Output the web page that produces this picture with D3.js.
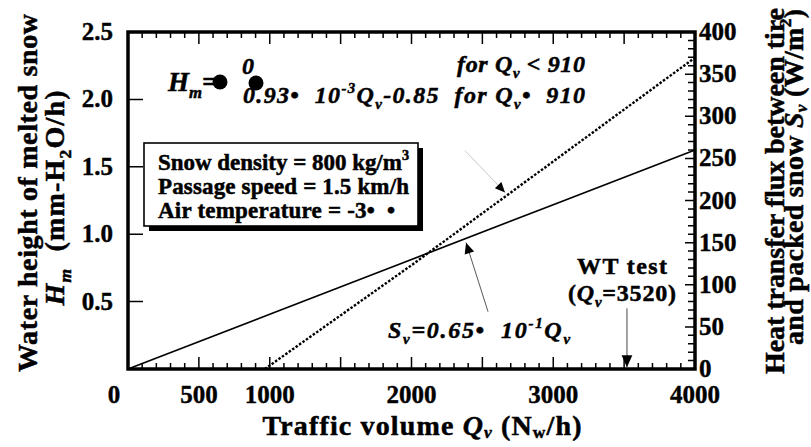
<!DOCTYPE html>
<html><head><meta charset="utf-8">
<script src="https://cdn.jsdelivr.net/npm/d3@7"></script>
<style>body{margin:0;background:#fff}text{white-space:pre}</style>
</head><body>
<svg id="c" width="811" height="447"></svg>
<script>
// ---- data ----
const xLabels = [0, 500, 1000, 2000, 3000, 4000];
const xMajor = [500, 1000, 1500, 2000, 2500, 3000, 3500];
const yLeftLabels = [0.5, 1.0, 1.5, 2.0, 2.5];
const yRightLabels = [0, 50, 100, 150, 200, 250, 300, 350, 400];
// S_v (solid line, right axis)
const svQ = [0, 1000, 2000, 3000, 4000];
const svVals = [0, 65, 130, 195, 260];
// H_m (dotted line, left axis)
const hmQ = [965, 2000, 3000, 4000];
const hmVals = [0, 0.77, 1.54, 2.31];
const wtQ = 3520;

const svg = d3.select('#c');
const FONT = '"Liberation Serif","Times New Roman",serif';
const x = d3.scaleLinear().domain([0, 4000]).range([128, 695]);
const yL = d3.scaleLinear().domain([0, 2.5]).range([369, 32]);
const yR = d3.scaleLinear().domain([0, 400]).range([369, 32]);

function rich(sel, parts, base, subShift = 0.25) {
  let shift = 0;
  parts.forEach(p => {
    const ts = sel.append('tspan').text(p.t);
    let target = 0, fs = base;
    if (p.sub) { target = subShift * base; fs = 0.62 * base; }
    if (p.sup) { target = -0.42 * base; fs = 0.62 * base; }
    ts.attr('dy', target - shift).attr('font-size', fs);
    if (p.i) ts.attr('font-style', 'italic');
    shift = target;
  });
  return sel;
}
function txt(xp, yp, size, opts = {}) {
  const t = svg.append('text').attr('x', xp).attr('y', yp)
    .attr('font-family', FONT).attr('font-weight', 'bold')
    .attr('font-size', size).attr('fill', '#000')
    .attr('stroke', '#000').attr('stroke-width', opts.sw == null ? 0.5 : opts.sw);
  if (opts.anchor) t.attr('text-anchor', opts.anchor);
  if (opts.italic) t.attr('font-style', 'italic');
  if (opts.len) t.attr('textLength', opts.len).attr('lengthAdjust', 'spacing');
  if (opts.rotate) t.attr('transform', `rotate(-90 ${xp} ${yp})`);
  return t;
}

// ---- frame with inward ticks (one path) ----
const minorX = d3.range(100, 4000, 100).filter(v => v % 500 !== 0);
const minorR = d3.range(10, 400, 10).filter(v => v % 50 !== 0);
const p = d3.path();
function seg(x1, y1, x2, y2) { p.moveTo(x1, y1); p.lineTo(x2, y2); }
minorX.forEach(v => { seg(x(v), yL(0), x(v), yL(0) - 6); seg(x(v), yL(2.5), x(v), yL(2.5) + 6); });
xMajor.forEach(v => { seg(x(v), yL(0), x(v), yL(0) - 12); seg(x(v), yL(2.5), x(v), yL(2.5) + 12); });
[0.5, 1, 1.5, 2].forEach(v => seg(x(0), yL(v), x(0) + 15, yL(v)));
minorR.forEach(v => seg(x(4000), yR(v), x(4000) - 7, yR(v)));
yRightLabels.slice(1, -1).forEach(v => seg(x(4000), yR(v), x(4000) - 10, yR(v)));
svg.append('path').attr('d', p.toString()).attr('fill', 'none')
  .attr('stroke', '#000').attr('stroke-width', 1.5);
svg.append('rect').attr('x', x(0)).attr('y', yL(2.5)).attr('width', x(4000) - x(0))
  .attr('height', yL(0) - yL(2.5)).attr('fill', 'none').attr('stroke', '#000').attr('stroke-width', 3.5);

// tick labels
const TS = 25;
xLabels.forEach(v => txt(x(v) + (v === 0 ? -14 : 0), 403, TS, { anchor: 'middle', sw: 0.4 }).text(String(v)));
yLeftLabels.forEach(v => txt(113, yL(v) + 8, TS, { anchor: 'end', sw: 0.4 }).text(d3.format('.1f')(v)));
yRightLabels.forEach(v => txt(699, yR(v) + 8, TS, { sw: 0.4 }).text(String(v)));

// ---- lines ----
const lineS = d3.line().x((d, i) => x(svQ[i])).y(d => yR(d));
svg.append('path').attr('d', lineS(svVals)).attr('fill', 'none').attr('stroke', '#000').attr('stroke-width', 1.7);
const lineH = d3.line().x((d, i) => x(hmQ[i])).y(d => yL(d));
svg.append('path').attr('d', lineH(hmVals)).attr('fill', 'none').attr('stroke', '#000')
  .attr('stroke-width', 2.4).attr('stroke-dasharray', '2.5,1.7');

// ---- arrows ----
function arrow(x1, y1, x2, y2, color, w, head) {
  svg.append('line').attr('x1', x1).attr('y1', y1).attr('x2', x2).attr('y2', y2)
    .attr('stroke', color).attr('stroke-width', w);
  const a = Math.atan2(y2 - y1, x2 - x1), L = head, W = head * 0.45;
  const pts = [[x2, y2],
    [x2 - L * Math.cos(a) + W * Math.sin(a), y2 - L * Math.sin(a) - W * Math.cos(a)],
    [x2 - L * Math.cos(a) - W * Math.sin(a), y2 - L * Math.sin(a) + W * Math.cos(a)]];
  svg.append('path').attr('d', 'M' + pts.join('L') + 'Z').attr('fill', '#000');
}
arrow(x(2540), yR(68), x(2385), yR(150), '#444', 0.9, 11);
arrow(x(2377), yL(1.62), x(2660), yL(1.31), '#bbb', 0.8, 10);
arrow(x(wtQ), yR(72), x(wtQ), yR(2), '#333', 0.9, 12);

// ---- legend box ----
svg.append('rect').attr('x', 149).attr('y', 148).attr('width', 274).attr('height', 83).attr('fill', '#000');
svg.append('rect').attr('x', 144).attr('y', 143).attr('width', 274).attr('height', 83)
  .attr('fill', '#fff').attr('stroke', '#000').attr('stroke-width', 1.6);
rich(txt(158, 170, 23, { len: 251 }), [{ t: 'Snow density = 800 kg/m' }, { t: '3', sup: 1 }], 23);
txt(158, 194, 23, { len: 251 }).text('Passage speed = 1.5 km/h');
txt(158, 218, 23, { len: 237 }).text('Air temperature = -3•  •');

// ---- equations ----
rich(txt(168, 91, 27, { italic: true }), [{ t: 'H' }, { t: 'm', sub: 1 }, { t: '=' }], 27);
svg.append('circle').attr('cx', 220).attr('cy', 82).attr('r', 7.5).attr('fill', '#000');
svg.append('circle').attr('cx', 256).attr('cy', 83).attr('r', 7.5).attr('fill', '#000');
txt(248, 74, 24, { italic: true, anchor: 'middle' }).text('0');
rich(txt(457, 72, 24, { italic: true, len: 128 }), [{ t: 'for Q' }, { t: 'v', sub: 1 }, { t: ' < 910' }], 24);
rich(txt(243, 103, 24, { italic: true, len: 342 }),
  [{ t: '0.93•  10' }, { t: '-3', sup: 1 }, { t: 'Q' }, { t: 'v', sub: 1 }, { t: '-0.85  for Q' }, { t: 'v', sub: 1 }, { t: '•  910' }], 24);
rich(txt(388, 338, 24, { italic: true, len: 182 }),
  [{ t: 'S' }, { t: 'v', sub: 1 }, { t: '=0.65•  10' }, { t: '-1', sup: 1 }, { t: 'Q' }, { t: 'v', sub: 1 }], 24);

// WT test
txt(622, 274, 24, { anchor: 'middle', len: 90 }).text('WT test');
rich(txt(622, 301, 24, { anchor: 'middle', len: 108 }), [{ t: '(' }, { t: 'Q', i: 1 }, { t: 'v', sub: 1, i: 1 }, { t: '=3520)' }], 24);

// ---- axis titles ----
rich(txt(422, 435, 28, { anchor: 'middle', len: 319 }),
  [{ t: 'Traffic volume ' }, { t: 'Q', i: 1 }, { t: 'v', sub: 1, i: 1 }, { t: ' (N' }, { t: 'w', sub: 1 }, { t: '/h)' }], 28, 0.12);
txt(37, 193, 28, { anchor: 'middle', rotate: true, len: 358 }).text('Water height of melted snow');
rich(txt(64, 198, 28, { anchor: 'middle', rotate: true, len: 215 }),
  [{ t: 'H', i: 1 }, { t: 'm', sub: 1, i: 1 }, { t: '  (mm-H' }, { t: '2', sub: 1 }, { t: 'O/h)' }], 28);
txt(784, 191, 28, { anchor: 'middle', rotate: true, len: 366 }).text('Heat transfer flux between tire');
rich(txt(803, 177, 28, { anchor: 'middle', rotate: true, len: 336 }),
  [{ t: 'and packed snow ' }, { t: 'S', i: 1 }, { t: 'v', sub: 1, i: 1 }, { t: ' (W/m' }, { t: '2', sup: 1 }, { t: ')' }], 28, 0.15);
</script>
</body></html>
